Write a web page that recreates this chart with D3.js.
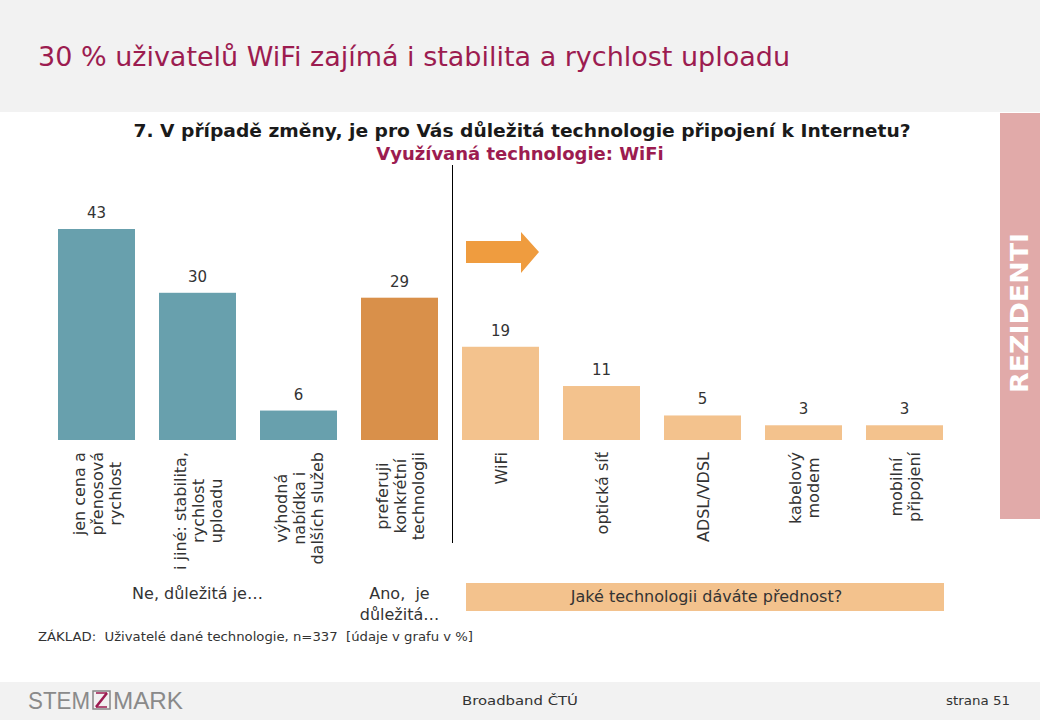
<!DOCTYPE html>
<html><head><meta charset="utf-8">
<script src="https://cdn.jsdelivr.net/npm/d3@7"></script>
<style>body{margin:0;background:#fff}svg{display:block}</style>
</head><body>
<svg id="c" width="1040" height="720"></svg>
<script>
const categories = [
  ["jen cena a","přenosová","rychlost"],
  ["i jiné: stabilita,","rychlost","uploadu"],
  ["výhodná","nabídka i","dalších služeb"],
  ["preferuji","konkrétní","technologii"],
  ["WiFi"],
  ["optická síť"],
  ["ADSL/VDSL"],
  ["kabelový","modem"],
  ["mobilní","připojení"]
];
const values = [43, 30, 6, 29, 19, 11, 5, 3, 3];
const groups = ["ne","ne","ne","ano","tech","tech","tech","tech","tech"];
const groupColors = {ne:"#68a0ad", ano:"#d9904a", tech:"#f3c28d"};
const titleText = "30 % uživatelů WiFi zajímá i stabilita a rychlost uploadu";
const questionText = "7. V případě změny, je pro Vás důležitá technologie připojení k Internetu?";
const subText = "Využívaná technologie: WiFi";
const groupLabelNe = ["Ne, důležitá je…"];
const groupLabelAno = ["Ano,  je","důležitá…"];
const groupLabelTech = "Jaké technologii dáváte přednost?";
const baseText = "ZÁKLAD:  Uživatelé dané technologie, n=337  [údaje v grafu v %]";

const svg = d3.select("#c");
const FONT = "DejaVu Sans, Verdana, sans-serif";
const CRIMSON = "#9c1c50";

// header / footer
svg.append("rect").attr("x",0).attr("y",0).attr("width",1040).attr("height",112).attr("fill","#f2f2f2");
svg.append("rect").attr("x",0).attr("y",682).attr("width",1040).attr("height",38).attr("fill","#f2f2f2");
svg.append("text").attr("x",38).attr("y",66).attr("font-family",FONT).attr("font-size",26)
  .attr("fill",CRIMSON).attr("textLength",752).attr("lengthAdjust","spacingAndGlyphs").text(titleText);

// side label
svg.append("rect").attr("x",1000).attr("y",113).attr("width",40).attr("height",406).attr("fill","#e1aaa9");
svg.append("text").attr("transform","translate(1028,313) rotate(-90)").attr("text-anchor","middle")
  .attr("font-family",FONT).attr("font-weight","bold").attr("font-size",25)
  .attr("textLength",160).attr("lengthAdjust","spacingAndGlyphs")
  .attr("fill","#fff").text("REZIDENTI");

// question
svg.append("text").attr("x",522).attr("y",137).attr("text-anchor","middle").attr("font-family",FONT)
  .attr("font-weight","bold").attr("font-size",18).attr("fill","#1a1a1a")
  .attr("textLength",777).attr("lengthAdjust","spacingAndGlyphs").text(questionText);
svg.append("text").attr("x",520).attr("y",160).attr("text-anchor","middle").attr("font-family",FONT)
  .attr("font-weight","bold").attr("font-size",18).attr("fill",CRIMSON).text(subText);

// scales
const x = d3.scaleBand().domain(d3.range(values.length)).range([46,955]).paddingInner(0.2376).paddingOuter(0.1188);
const y = d3.scaleLinear().domain([0,43]).range([440,229]);

svg.append("g").selectAll("rect").data(values).join("rect")
  .attr("x",(d,i)=>x(i)).attr("width",x.bandwidth())
  .attr("y",d=>y(d)).attr("height",d=>y(0)-y(d))
  .attr("fill",(d,i)=>groupColors[groups[i]]);

svg.append("g").selectAll("text").data(values).join("text")
  .attr("x",(d,i)=>x(i)+x.bandwidth()/2).attr("y",d=>y(d)-11)
  .attr("text-anchor","middle").attr("font-family",FONT).attr("font-size",15).attr("fill","#333")
  .text(d=>d);

// category labels via axis
const axis = d3.axisBottom(x).tickSize(0).tickFormat("");
const ag = svg.append("g").attr("transform","translate(0,440)").call(axis);
ag.select(".domain").remove();
const lineH = 18;
ag.selectAll(".tick").each(function(d){
  const lines = categories[d];
  const g = d3.select(this).append("g");
  const texts = lines.map((l,k)=>{
    return g.append("text").attr("text-anchor","middle").attr("font-family",FONT).attr("font-size",16)
      .attr("fill","#333").text(l);
  });
  const maxLen = d3.max(texts, t=>t.node().getComputedTextLength());
  const n = lines.length;
  texts.forEach((t,k)=>{
    const off = (k-(n-1)/2)*lineH;
    t.attr("transform",`translate(${off+6},${12+maxLen/2}) rotate(-90)`);
  });
});

// divider
svg.append("line").attr("x1",452.5).attr("x2",452.5).attr("y1",165).attr("y2",543).attr("stroke","#000").attr("stroke-width",1);

// arrow
const ax0 = x(4)+4, ax1 = x(4)+x.bandwidth();
svg.append("path").attr("d",`M${ax0},241 L${ax1-18},241 L${ax1-18},232 L${ax1},252 L${ax1-18},273 L${ax1-18},263 L${ax0},263 Z`)
  .attr("fill","#ef9c3f");

// group labels
const neC = (x(0)+x(2)+x.bandwidth())/2;
svg.append("text").attr("x",neC).attr("y",599).attr("text-anchor","middle").attr("font-family",FONT)
  .attr("font-size",16).attr("fill","#333").text(groupLabelNe[0]);
groupLabelAno.forEach((l,k)=>{
  svg.append("text").attr("x",x(3)+x.bandwidth()/2).attr("y",599+k*21).attr("text-anchor","middle")
    .attr("font-family",FONT).attr("font-size",16).attr("fill","#333").attr("xml:space","preserve").text(l);
});
svg.append("rect").attr("x",x(4)+4).attr("y",583).attr("width",x(8)+x.bandwidth()-x(4)-3).attr("height",28).attr("fill","#f3c28d");
svg.append("text").attr("x",(x(4)+x(8)+x.bandwidth())/2+4).attr("y",602).attr("text-anchor","middle").attr("font-family",FONT)
  .attr("font-size",16).attr("fill","#333").text(groupLabelTech);

// base
svg.append("text").attr("x",38).attr("y",641).attr("font-family",FONT).attr("font-size",12).attr("fill","#333")
  .attr("xml:space","preserve").attr("textLength",435).attr("lengthAdjust","spacingAndGlyphs").text(baseText);

// footer
const lg = svg.append("g");
lg.append("text").attr("x",28).attr("y",709).attr("font-family","Liberation Sans, sans-serif").attr("font-size",24)
  .attr("fill","#8a8a8a").attr("textLength",62).attr("lengthAdjust","spacingAndGlyphs").text("STEM");
lg.append("rect").attr("x",93).attr("y",691).attr("width",17).attr("height",18).attr("fill","none").attr("stroke","#888").attr("stroke-width",1.5);
lg.append("path").attr("d","M96,707 L107,693").attr("stroke",CRIMSON).attr("stroke-width",2.5);
lg.append("path").attr("d","M96,693 L107,693 M96,707 L107,707").attr("stroke",CRIMSON).attr("stroke-width",1.5);
lg.append("text").attr("x",113).attr("y",709).attr("font-family","Liberation Sans, sans-serif").attr("font-size",24)
  .attr("fill","#8a8a8a").attr("textLength",70).attr("lengthAdjust","spacingAndGlyphs").text("MARK");
svg.append("text").attr("x",520).attr("y",705).attr("text-anchor","middle").attr("font-family",FONT).attr("font-size",12)
  .attr("fill","#333").attr("textLength",116).attr("lengthAdjust","spacingAndGlyphs").text("Broadband ČTÚ");
svg.append("text").attr("x",1010).attr("y",705).attr("text-anchor","end").attr("font-family",FONT).attr("font-size",12)
  .attr("fill","#333").attr("textLength",64).attr("lengthAdjust","spacingAndGlyphs").text("strana 51");
</script>
</body></html>
